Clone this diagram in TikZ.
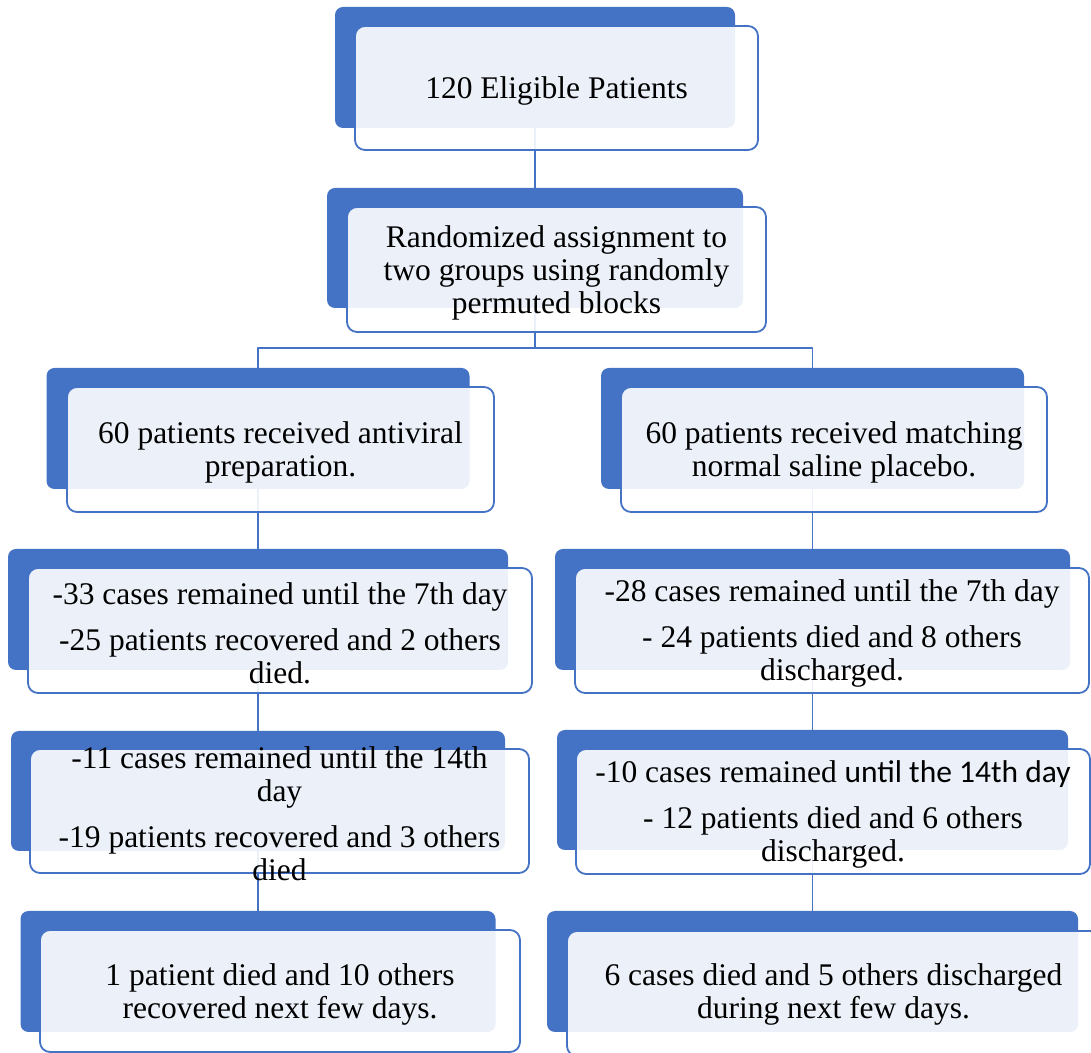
\documentclass[tikz,border=0pt]{standalone}
\usepackage{fontspec}
\setmainfont{Liberation Serif}
\newfontfamily\calibrifont{Carlito}
\definecolor{boxblue}{HTML}{4472C4}
\begin{document}
\begin{tikzpicture}[line join=bevel,
  backbox/.style={draw=none,fill=boxblue,rounded corners=8bp,inner sep=0pt},
  frontbox/.style={draw=boxblue,line width=1.8bp,fill=white,fill opacity=0.9,rounded corners=10bp,inner sep=0pt},
  boxtext/.style={draw=none,align=center,inner sep=0pt,yshift=-3bp,font=\fontsize{31.5bp}{33bp}\selectfont},
  link/.style={boxblue,line width=1.8bp}]
\useasboundingbox (0bp,0bp) rectangle (1091bp,1053bp);
\clip (0bp,0bp) rectangle (1091bp,1053bp);
%%
\node (node_0) at (535bp,985.5bp) [backbox,minimum width=400bp,minimum height=121bp] {};
  \node (node_1) at (535bp,805bp) [backbox,minimum width=416bp,minimum height=120bp] {};
  \node (node_2) at (258bp,624.5bp) [backbox,minimum width=423bp,minimum height=121bp] {};
  \node (node_3) at (812.5bp,624.5bp) [backbox,minimum width=423bp,minimum height=121bp] {};
  \node (node_4) at (258bp,443.5bp) [backbox,minimum width=500bp,minimum height=121bp] {};
  \node (node_5) at (812.5bp,443.5bp) [backbox,minimum width=515bp,minimum height=121bp] {};
  \node (node_6) at (258bp,262bp) [backbox,minimum width=494bp,minimum height=120bp] {};
  \node (node_7) at (812.5bp,263bp) [backbox,minimum width=511bp,minimum height=120bp] {};
  \node (node_8) at (258bp,81.5bp) [backbox,minimum width=475bp,minimum height=121bp] {};
  \node (node_9) at (812.5bp,81.5bp) [backbox,minimum width=531bp,minimum height=121bp] {};
%
\coordinate (fork) at (535bp,705bp);
  \draw [link] (node_0.south) -- (node_1.north);
  \draw [link] (node_1.south) -- (fork);
  \draw [link] (fork) -| (node_2.north);
  \draw [link] (fork) -| (node_3.north);
  \draw [link] (node_2.south) -- (node_4.north);
  \draw [link] (node_3.south) -- (node_5.north);
  \draw [link] (node_4.south) -- (node_6.north);
  \draw [link] (node_5.south) -- (node_7.north);
  \draw [link] (node_6.south) -- (node_8.north);
  \draw [link] (node_7.south) -- (node_9.north);
%
\node (front_0) at (556.5bp,965bp) [frontbox,minimum width=403bp,minimum height=124bp] {};
  \node (front_1) at (556.5bp,783.5bp) [frontbox,minimum width=419bp,minimum height=125bp] {};
  \node (front_2) at (280.5bp,603.5bp) [frontbox,minimum width=427bp,minimum height=125bp] {};
  \node (front_3) at (834bp,603.5bp) [frontbox,minimum width=426bp,minimum height=125bp] {};
  \node (front_4) at (280bp,422.5bp) [frontbox,minimum width=504bp,minimum height=125bp] {};
  \node (front_5) at (832bp,422.5bp) [frontbox,minimum width=514bp,minimum height=125bp] {};
  \node (front_6) at (279.5bp,242bp) [frontbox,minimum width=499bp,minimum height=124bp] {};
  \node (front_7) at (833bp,241.5bp) [frontbox,minimum width=514bp,minimum height=125bp] {};
  \node (front_8) at (280bp,62bp) [frontbox,minimum width=480bp,minimum height=122bp] {};
  \node (front_9) at (833.5bp,59.5bp) [frontbox,minimum width=533bp,minimum height=125bp] {};
%
\node (text_0) at (front_0.center) [boxtext] {120 Eligible Patients};
  \node (text_1) at (front_1.center) [boxtext] {Randomized assignment to\\two groups using randomly\\permuted blocks};
  \node (text_2) at (front_2.center) [boxtext] {60 patients received antiviral\\preparation.};
  \node (text_3) at (front_3.center) [boxtext] {60 patients received matching\\normal saline placebo.};
  \node (text_4) at (front_4.center) [boxtext] {-33 cases remained until the 7th day\\[13bp]-25 patients recovered and 2 others\\died.};
  \node (text_5) at (front_5.center) [boxtext] {-28 cases remained until the 7th day\\[13bp]- 24 patients died and 8 others\\discharged.};
  \node (text_6) at (front_6.center) [boxtext] {-11 cases remained until the 14th\\day\\[13bp]-19 patients recovered and 3 others\\died};
  \node (text_7) at (front_7.center) [boxtext] {-10 cases remained {\calibrifont until the 14th day}\\[13bp]- 12 patients died and 6 others\\discharged.};
  \node (text_8) at (front_8.center) [boxtext] {1 patient died and 10 others\\recovered next few days.};
  \node (text_9) at (833.5bp,62bp) [boxtext] {6 cases died and 5 others discharged\\during next few days.};
%
\end{tikzpicture}
\end{document}
